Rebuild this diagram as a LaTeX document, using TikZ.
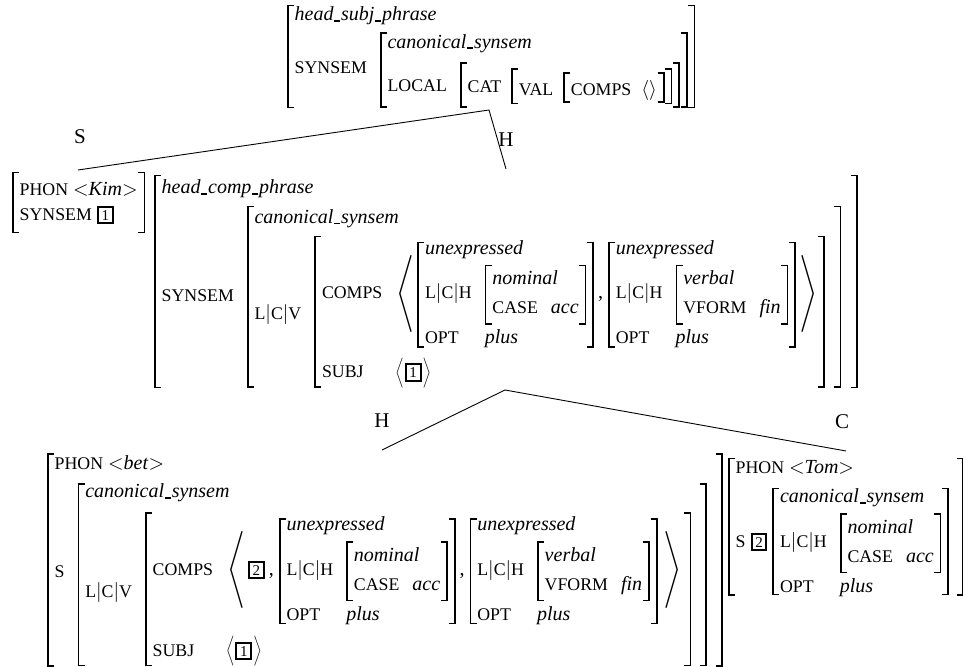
\documentclass[tikz,border=0pt]{standalone}
\usepackage{fontspec}
\setmainfont{Liberation Serif}
\usepackage{array}
\usepackage{graphicx}
\renewcommand\arraystretch{1.125}
\newlength\brw \setlength\brw{0.85pt}
\newlength\brt \setlength\brt{0.75pt}
\newlength\tick \setlength\tick{3.5pt}
\newlength\brgap \setlength\brgap{3pt}
\newdimen\avmh \newdimen\avmd
\newcommand\lbrk[2]{\rlap{\vrule height #1 depth -\dimexpr#1-\brt\relax width \tick}\rlap{\vrule height -\dimexpr#2-\brt\relax depth #2 width \tick}\vrule height #1 depth #2 width \brw\kern\brgap}
\newcommand\rbrk[2]{\kern\brgap\vrule height #1 depth #2 width \brw\llap{\vrule height #1 depth -\dimexpr#1-\brt\relax width \tick}\llap{\vrule height -\dimexpr#2-\brt\relax depth #2 width \tick}}
\NewDocumentCommand\avm{O{-1.5pt} O{-1.5pt} O{l@{\hspace{6.5pt}}l} m}{\hbox{\setbox0=\hbox{\begin{tabular}{@{}#3@{}}#4\end{tabular}}%
\avmh=\dimexpr\ht0+#1\relax \avmd=\dimexpr\dp0+#2\relax \ht0=\avmh \dp0=\avmd
\lbrk\avmh\avmd\box0\rbrk\avmh\avmd}}
\newcommand\rg[1]{\\\noalign{\vskip#1}}
\newcommand\langx[2]{\hbox{$\vcenter{\hbox{\resizebox*{#1}{#2}{$\Biggl\langle$}}}$}}
\newcommand\rangx[2]{\hbox{$\vcenter{\hbox{\resizebox*{#1}{#2}{$\Biggr\rangle$}}}$}}
\newcommand\bigL{\hspace{0.5pt}\langx{9pt}{38.5pt}\hspace{1.5pt}}
\newcommand\bigR{\hspace{1.5pt}\rangx{9pt}{38.5pt}}
\newcommand\smL{\langx{4.2pt}{15pt}\hspace{0.5pt}}
\newcommand\smR{\hspace{0.5pt}\rangx{4.2pt}{15pt}}
\newcommand\cm{\hspace{2pt}\mbox{,}\hspace{2.5pt}}
\newcommand\ft[1]{\mbox{\fontsize{8.9}{10}\selectfont #1}}
\newcommand\us{\kern0.04em\rule[-0.4pt]{3pt}{0.7pt}\kern0.04em}
\newcommand\tg[1]{\mbox{\setlength\fboxsep{0.9pt}\setlength\fboxrule{1pt}\fbox{\rule[-0.2pt]{0pt}{5.6pt}\makebox[4.6pt]{\fontsize{7.5}{7.5}\selectfont #1}}}}
\newcommand\tw[1]{\multicolumn{2}{@{}l@{}}{#1}}
\newcommand\LCH{\ft{L}$|$\ft{C}$|$\ft{H}}
\newcommand\LCV{\ft{L}$|$\ft{C}$|$\ft{V}}
\newcommand\nomavm{\avm[0.6pt][1.5pt]{\tw{\textit{nominal}}\rg{1pt} \ft{CASE} & \textit{acc}}}
\newcommand\verbavm{\avm[0.6pt][1.5pt]{\tw{\textit{verbal}}\rg{1pt} \ft{VFORM} & \textit{fin}}}
\newcommand\unexp[1]{\avm[-3pt][-2pt]{\tw{\textit{unexpressed}}\rg{1pt} \LCH & #1\\ \ft{OPT} & \textit{plus}}}
\tikzset{avmnode/.style={anchor=north west, inner sep=0pt, outer sep=0pt},
  lbl/.style={anchor=center, inner sep=0pt, font=\fontsize{10.5}{12}\selectfont},
  branch/.style={line width=0.45pt}}
\begin{document}
\begin{tikzpicture}[x=0.5pt,y=-0.5pt]
\useasboundingbox (0,0) rectangle (963,667);
% top node
\node[avmnode] (top) at (287,5) {\avm[-1.45pt][0.3pt]{\tw{\textit{head\us subj\us phrase}}\rg{1.5pt}
\ft{SYNSEM} & \avm[-1.45pt][0pt]{\tw{\textit{canonical\us synsem}}\rg{3pt}
\ft{LOCAL} & \avm[3pt][1.8pt][l@{\hspace{5pt}}l]{\ft{CAT} & \avm[2pt][0.5pt][l@{\hspace{5pt}}l]{\ft{VAL} & \avm[2.2pt][-0.5pt][l@{\hspace{5pt}}l]{\ft{COMPS} & $\langle\rangle$}}}}}};
% Kim
\node[avmnode] (kim) at (12,172) {\avm[2.2pt][2.5pt][l]{\ft{PHON} $<$\textit{Kim}$>$\rg{-1pt} \ft{SYNSEM} \tg{1}}};
% head comp
\node[avmnode] (hc) at (154,175) {\avm[0pt][0.3pt]{\tw{\textit{head\us comp\us phrase}}\rg{2pt}
\ft{SYNSEM} & \avm[-0.7pt][0pt]{\tw{\textit{canonical\us synsem}}\rg{2pt}
\LCV & \avm[3pt][0pt]{\ft{COMPS} & \bigL\unexp{\nomavm}\cm\unexp{\verbavm}\bigR\rg{5pt}
\ft{SUBJ} & \smL\tg{1}\smR}\kern4.5pt}\kern4.5pt}};
% bet
\node[avmnode] (bet) at (47,453) {\avm[-1pt][0.3pt]{\tw{\ft{PHON} $<$\textit{bet}$>$}\rg{2.5pt}
\ft{S} & \avm[-2pt][0pt]{\tw{\textit{canonical\us synsem}}\rg{3pt}
\LCV & \avm[3pt][0pt]{\ft{COMPS} & \bigL\tg{2}\cm\unexp{\nomavm}\cm\unexp{\verbavm}\hspace{1.5pt}\bigR\kern1pt\rg{6pt}
\ft{SUBJ} & \smL\tg{1}\smR}\kern4pt}\kern4pt}};
% Tom
\node[avmnode] (tom) at (728,458) {\avm[-1.5pt][0.3pt][l@{\hspace{2.5pt}}l]{\tw{\ft{PHON} $<$\textit{Tom}$>$}\rg{3pt}
\ft{S} \tg{2} & \avm[-2pt][-2.5pt]{\tw{\textit{canonical\us synsem}}\rg{1pt} \LCH & \nomavm\\ \ft{OPT} & \textit{plus}}\kern3.6pt}};
% labels
\node[lbl] (lS) at (80,137) {S};
\node[lbl] (lH1) at (506,140) {H};
\node[lbl] (lH2) at (382,421) {H};
\node[lbl] (lC) at (842,422) {C};
% branches
\coordinate (apex1) at (489,110);
\coordinate (sEnd) at (78,170);
\coordinate (hEnd) at (506,169);
\coordinate (apex2) at (505,390);
\coordinate (h2End) at (382,450);
\coordinate (cEnd) at (846,451);
\draw[branch] (sEnd) -- (apex1) -- (hEnd);
\draw[branch] (h2End) -- (apex2) -- (cEnd);
\end{tikzpicture}
\end{document}
